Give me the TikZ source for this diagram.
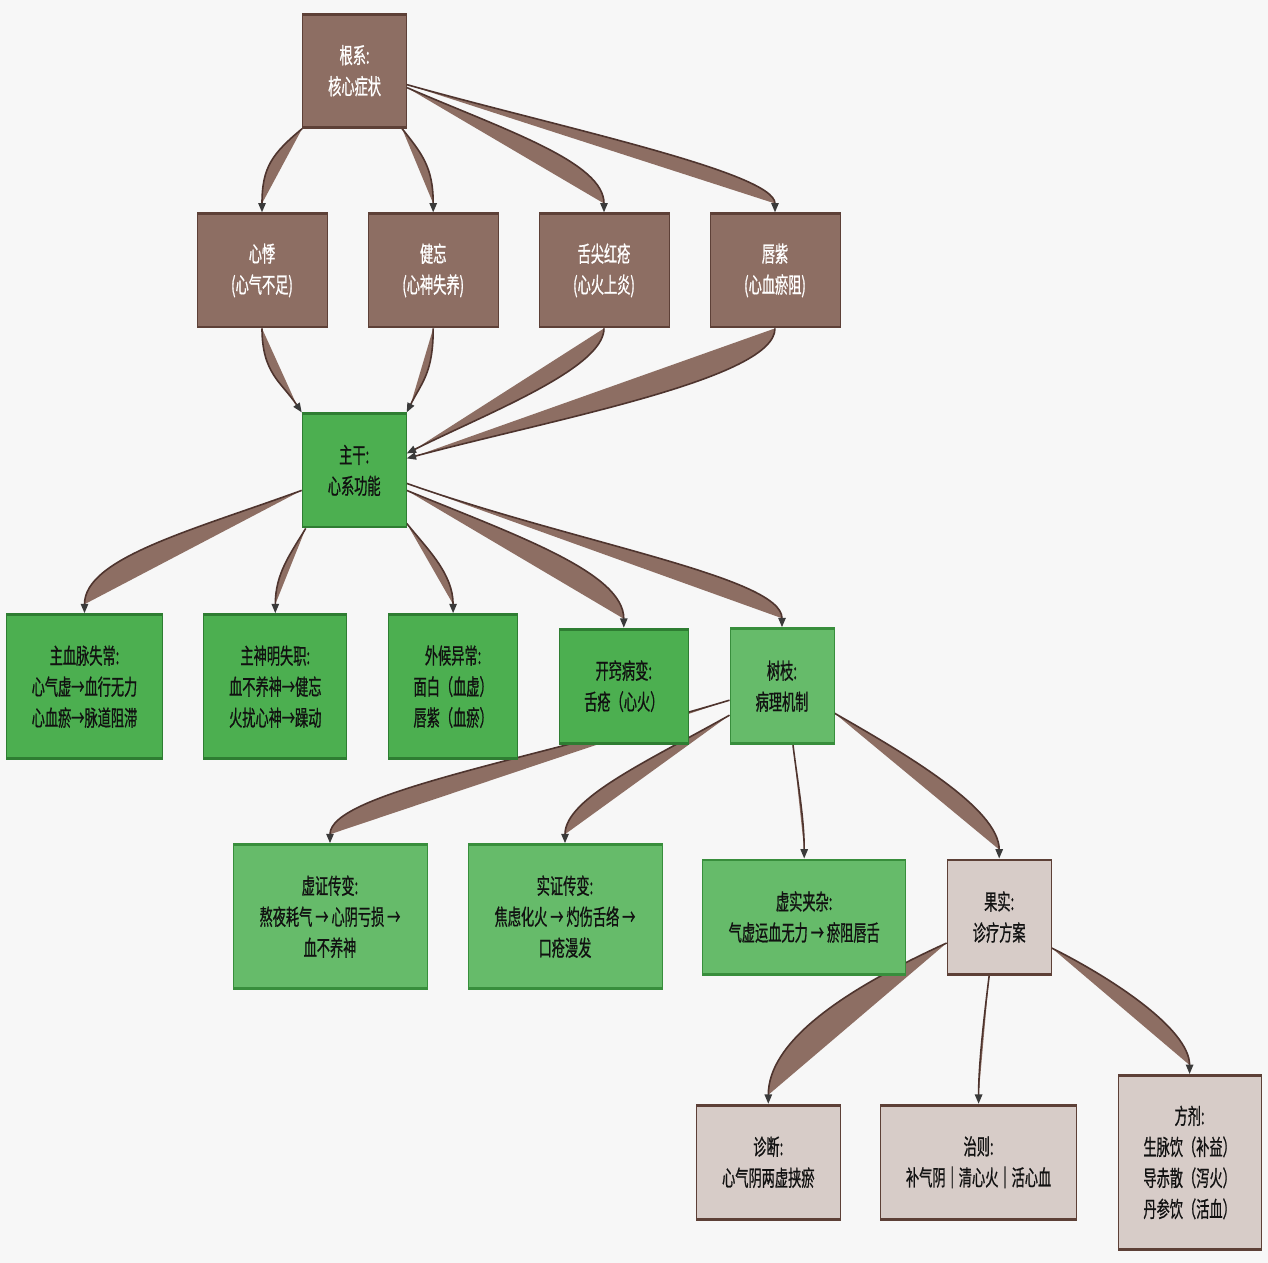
\documentclass[tikz,border=0pt]{standalone}
\usepackage{fontspec}
\setmainfont{Noto Sans CJK SC}[FakeStretch=0.6,FakeBold=0.8]
\usetikzlibrary{arrows.meta,calc}
\pgfdeclarelayer{bg}
\pgfsetlayers{bg,main}
\definecolor{bgc}{HTML}{F7F7F7}
\definecolor{brownf}{HTML}{8D6E63}
\definecolor{browndk}{HTML}{5D4037}
\definecolor{greenf}{HTML}{4CAF50}
\definecolor{greendk}{HTML}{2E7D32}
\definecolor{lgreenf}{HTML}{66BB6A}
\definecolor{lgreendk}{HTML}{388E3C}
\definecolor{beigef}{HTML}{D7CCC8}
\definecolor{edgedk}{HTML}{4E342E}
\definecolor{arrowc}{HTML}{3A3A3A}
\definecolor{txt}{HTML}{111111}
\tikzset{
  nb/.style={rectangle, inner sep=0pt, align=center, line width=0.75pt,
    font=\fontsize{16.5pt}{23.25pt}\selectfont},
  bars/.style={path picture={\draw[line width=3.6pt,#1]
    (path picture bounding box.north west) -- (path picture bounding box.north east)
    (path picture bounding box.south west) -- (path picture bounding box.south east);}},
  brownbox/.style={nb, fill=brownf, draw=browndk, text=white, bars=browndk},
  greenbox/.style={nb, fill=greenf, draw=greendk, text=txt, bars=greendk},
  lgreenbox/.style={nb, fill=lgreenf, draw=lgreendk, text=txt, bars=lgreendk},
  beigebox/.style={nb, fill=beigef, draw=browndk, text=txt, bars=browndk},
  sz/.style 2 args={minimum width=#1*0.75pt, minimum height=#2*0.75pt},
  br/.style={fill=brownf, draw=edgedk, line width=1.2pt,
    -{Triangle[length=7pt,width=5.5pt,color=arrowc]}},
}
\begin{document}
\begin{tikzpicture}[x=0.75pt,y=-0.75pt]
\useasboundingbox (0,0) rectangle (1268,1263);
% level 0
\node[brownbox, sz={104}{115}] (gen) at (354.6,70.7) {根系:\\核心症状};
% level 1
\node[brownbox, sz={130}{115}] (xinji) at (262,270.4) {心悸\\(心气不足)};
\node[brownbox, sz={130}{115}] (jianwang) at (433.2,270.4) {健忘\\(心神失养)};
\node[brownbox, sz={130}{115}] (shejian) at (604,270.4) {舌尖红疮\\(心火上炎)};
\node[brownbox, sz={130}{115}] (chunzi) at (775,270.4) {唇紫\\(心血瘀阻)};
% trunk
\node[greenbox, sz={104}{115}] (zhugan) at (354.2,470.4) {主干:\\心系功能};
% level 3
\node[greenbox, sz={156}{146}] (a1) at (84.5,686.7) {主血脉失常:\\心气虚→血行无力\\心血瘀→脉道阻滞};
\node[greenbox, sz={143}{146}] (a2) at (275.3,686.7) {主神明失职:\\血不养神→健忘\\火扰心神→躁动};
\node[greenbox, sz={129}{146}] (a3) at (453.1,686.7) {外候异常:\\面白（血虚）\\唇紫（血瘀）};
\node[greenbox, sz={129}{116}] (a4) at (623.8,686.2) {开窍病变:\\舌疮（心火）};
\node[lgreenbox, sz={104}{117}] (a5) at (782,686.2) {树枝:\\病理机制};
% level 4
\node[lgreenbox, sz={194}{146}] (b1) at (330,916.7) {虚证传变:\\熬夜耗气 → 心阴亏损 →\\血不养神};
\node[lgreenbox, sz={194}{146}] (b2) at (565,916.7) {实证传变:\\焦虑化火 → 灼伤舌络 →\\口疮漫发};
\node[lgreenbox, sz={203}{116}] (b3) at (804.2,917) {虚实夹杂:\\气虚运血无力 → 瘀阻唇舌};
\node[beigebox, sz={104}{116}] (b4) at (999.2,917) {果实:\\诊疗方案};
% level 5
\node[beigebox, sz={143.5}{116}] (c1) at (768.3,1162.3) {诊断:\\心气阴两虚挟瘀};
\node[beigebox, sz={196}{116}] (c2) at (978.6,1162.3) {治则:\\补气阴｜清心火｜活心血};
\node[beigebox, sz={143}{176}] (c3) at (1189.6,1162.5) {方剂:\\生脉饮（补益）\\导赤散（泻火）\\丹参饮（活血）};

\begin{pgfonlayer}{bg}
\fill[bgc] (0,0) rectangle (1268,1263);
% root -> symptoms
\draw[br] (gen.south west) .. controls +(-30,25) and +(0,-45) .. (xinji.north);
\draw[br] ($(gen.south east)+(-5,0)$) .. controls +(20,25) and +(0,-45) .. (jianwang.north);
\draw[br] ($(gen.east)+(0,17)$) .. controls +(100,43) and +(0,-50) .. (shejian.north);
\draw[br] ($(gen.east)+(0,14)$) .. controls +(150,42) and +(0,-40) .. (chunzi.north);
% symptoms -> trunk
\draw[br] (xinji.south) .. controls +(0,45) and +(-20,-30) .. (zhugan.north west);
\draw[br] (jianwang.south) .. controls +(0,45) and +(15,-30) .. (zhugan.north east);
\draw[br] (shejian.south) .. controls +(0,40) and +(80,-40) .. ($(zhugan.east)+(0,-17)$);
\draw[br] (chunzi.south) .. controls +(0,50) and +(150,-40) .. ($(zhugan.east)+(0,-12)$);
% trunk -> functions
\draw[br] ($(zhugan.west)+(0,20)$) .. controls +(-110,40) and +(0,-55) .. (a1.north);
\draw[br] ($(zhugan.south west)+(4,0)$) .. controls +(-15,25) and +(0,-40) .. (a2.north);
\draw[br] ($(zhugan.south east)+(0,-5)$) .. controls +(20,25) and +(0,-40) .. (a3.north);
\draw[br] ($(zhugan.east)+(0,20)$) .. controls +(110,45) and +(0,-55) .. (a4.north);
\draw[br] ($(zhugan.east)+(0,13)$) .. controls +(170,60) and +(0,-50) .. (a5.north);
% branch -> mechanisms
\draw[br] ($(a5.west)+(0,14)$) .. controls +(-200,60) and +(0,-50) .. (b1.north);
\draw[br] ($(a5.west)+(0,29)$) .. controls +(-80,45) and +(0,-45) .. (b2.north);
\draw[br] ($(a5.south)+(11,0)$) .. controls +(5,40) and +(0,-40) .. (b3.north);
\draw[br] ($(a5.east)+(0,27)$) .. controls +(70,40) and +(0,-50) .. (b4.north);
% fruit -> plan
\draw[br] ($(b4.west)+(0,26)$) .. controls +(-110,50) and +(0,-60) .. (c1.north);
\draw[br] ($(b4.south)+(-10,0)$) .. controls +(-5,40) and +(0,-40) .. (c2.north);
\draw[br] ($(b4.east)+(0,31)$) .. controls +(60,30) and +(0,-45) .. (c3.north);
\end{pgfonlayer}
\end{tikzpicture}
\end{document}
